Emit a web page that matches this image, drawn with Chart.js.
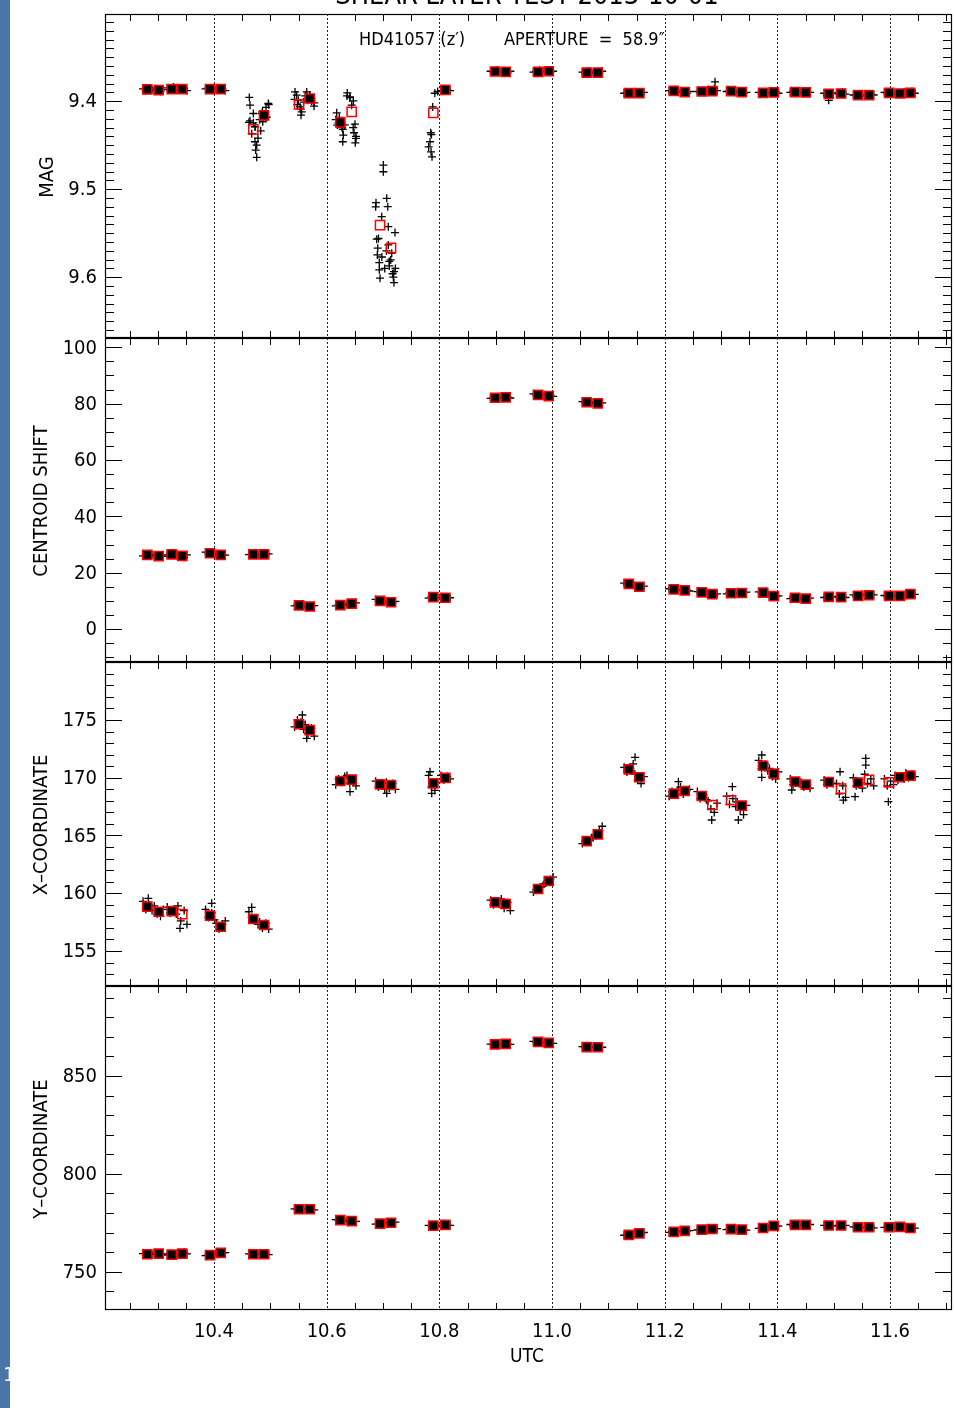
<!DOCTYPE html>
<html><head><meta charset="utf-8">
<script src="https://cdn.jsdelivr.net/npm/chart.js@4/dist/chart.umd.min.js"></script>
<style>
html,body{margin:0;padding:0;background:#fff;}
#wrap{position:relative;width:955px;height:1408px;overflow:hidden;background:#fff;}
canvas{position:absolute;left:0;top:0;}
#bar{position:absolute;left:0;top:0;width:10px;height:1408px;background:#4a75a6;}
#pg{position:absolute;left:3px;top:1362px;font:20px "DejaVu Sans",sans-serif;color:#fff;}
</style></head><body>
<div id="wrap">
<canvas id="c0" width="955" height="1408"></canvas>
<canvas id="c1" width="955" height="1408"></canvas>
<canvas id="c2" width="955" height="1408"></canvas>
<canvas id="c3" width="955" height="1408"></canvas>
<div id="bar"></div><div id="pg">1</div>
</div>
<script>
// ---- binned means (red squares) ----
const binTimes = [10.2816,10.3018,10.3249,10.3437,10.3929,10.4119,10.4698,10.4888,10.5509,10.5699,10.6242,10.6444,10.6947,10.7142,10.7893,10.8106,10.8988,10.9178,10.9752,10.9942,11.0616,11.0812,11.1362,11.1550,11.2161,11.2356,11.2658,11.2846,11.3178,11.3368,11.3746,11.3936,11.4314,11.4504,11.4912,11.5131,11.5433,11.5627,11.5983,11.6173,11.6361];
const magBins = [9.3867,9.3875,9.3864,9.3864,9.3864,9.3864,9.4320,9.4162,9.4037,9.3970,9.4242,9.4121,9.5409,9.5667,9.4133,9.3872,9.3663,9.3668,9.3668,9.3660,9.3675,9.3675,9.3909,9.3909,9.3883,9.3898,9.3890,9.3887,9.3887,9.3898,9.3906,9.3901,9.3898,9.3901,9.3917,9.3913,9.3932,9.3932,9.3906,9.3913,9.3906];
const shiftBins = [26.3,25.9,26.5,26.0,26.9,26.3,26.5,26.5,8.4,8.0,8.5,9.0,10.0,9.5,11.3,11.1,82.1,82.2,83.1,82.7,80.5,80.1,16.0,15.0,14.1,13.7,13.0,12.4,12.7,12.8,12.9,11.7,11.1,10.8,11.4,11.3,11.8,12.0,11.8,11.8,12.4];
const xBins = [158.84,158.40,158.46,158.20,158.06,157.10,157.77,157.25,174.63,174.13,169.72,169.83,169.43,169.37,169.52,169.98,159.21,159.07,160.37,161.06,164.52,165.10,170.73,170.04,168.62,168.85,168.42,167.64,168.05,167.58,171.04,170.35,169.66,169.40,169.63,169.05,169.57,169.81,169.60,170.04,170.18];
const yBins = [758.9,759.2,758.7,759.2,758.4,759.6,758.9,758.9,781.9,781.9,776.3,775.8,774.5,775.0,773.5,773.9,866.2,866.4,867.4,866.9,864.8,864.7,768.8,769.6,770.3,770.8,771.5,771.8,771.7,771.5,772.3,773.4,773.9,773.9,773.6,773.6,772.7,772.7,772.7,772.9,772.3];

// ---- individual exposures (black crosses) ----
const expTimes = [10.274,10.279,10.285,10.290,10.294,10.299,10.305,10.310,10.317,10.322,10.328,10.333,10.336,10.341,10.347,10.352,
10.385,10.390,10.396,10.401,10.404,10.409,10.415,10.420,10.462,10.467,10.473,10.478,10.481,10.486,10.492,10.497,
10.543,10.548,10.554,10.559,10.562,10.567,10.573,10.578,10.616,10.621,10.627,10.632,10.636,10.641,10.647,10.652,
10.687,10.692,10.698,10.703,10.706,10.711,10.717,10.722,10.781,10.786,10.792,10.797,10.803,10.808,10.814,10.819,
10.891,10.896,10.902,10.907,10.910,10.915,10.921,10.926,10.967,10.972,10.978,10.983,10.986,10.991,10.997,11.002,
11.054,11.059,11.065,11.070,11.073,11.078,11.084,11.089,11.128,11.133,11.139,11.144,11.147,11.152,11.158,11.163,
11.208,11.213,11.219,11.224,11.228,11.233,11.239,11.244,11.258,11.263,11.269,11.274,11.277,11.282,11.288,11.293,
11.310,11.315,11.321,11.326,11.329,11.334,11.340,11.345,11.367,11.372,11.378,11.383,11.386,11.391,11.397,11.402,
11.423,11.428,11.434,11.439,11.442,11.447,11.453,11.458,11.483,11.488,11.494,11.499,11.505,11.510,11.516,11.521,
11.535,11.540,11.546,11.551,11.555,11.560,11.566,11.571,11.590,11.595,11.601,11.606,11.609,11.614,11.620,11.625,
11.628,11.633,11.639,11.644];
const magExp = [9.386,9.388,9.385,9.387,9.388,9.386,9.389,9.387,9.385,9.387,9.384,9.386,9.387,9.385,9.386,9.388,
9.386,9.385,9.388,9.386,9.387,9.385,9.386,9.388,9.424,9.437,9.429,9.442,9.421,9.412,9.418,9.404,
9.398,9.404,9.409,9.401,9.394,9.399,9.397,9.402,9.421,9.425,9.430,9.427,9.394,9.396,9.430,9.440,
9.520,9.556,9.577,9.590,9.570,9.582,9.596,9.590,9.452,9.438,9.391,9.389,9.388,9.386,9.387,9.388,
9.366,9.367,9.365,9.367,9.367,9.366,9.368,9.366,9.367,9.366,9.365,9.367,9.366,9.365,9.367,9.366,
9.367,9.368,9.366,9.368,9.368,9.367,9.368,9.366,9.391,9.390,9.392,9.391,9.390,9.392,9.391,9.390,
9.388,9.389,9.387,9.389,9.390,9.389,9.391,9.389,9.389,9.390,9.388,9.389,9.387,9.389,9.386,9.388,
9.389,9.388,9.389,9.390,9.390,9.389,9.391,9.390,9.390,9.392,9.391,9.390,9.391,9.390,9.389,9.391,
9.390,9.389,9.391,9.390,9.390,9.391,9.389,9.390,9.391,9.393,9.392,9.391,9.391,9.392,9.390,9.392,
9.393,9.394,9.392,9.394,9.394,9.393,9.392,9.393,9.390,9.391,9.390,9.392,9.391,9.392,9.391,9.390,
9.391,9.390,9.389,9.391];
const shiftExp = [26.0,26.6,26.2,26.4,26.1,25.7,26.0,25.8,26.3,26.8,26.4,26.6,26.2,25.8,25.5,26.3,
27.3,26.8,26.7,27.0,26.5,26.1,26.4,26.2,26.4,26.7,26.5,26.3,26.6,26.4,26.5,26.7,
8.2,8.7,8.5,8.1,8.4,7.8,8.1,8.3,8.2,8.6,8.7,8.4,8.8,9.2,9.1,9.3,
10.5,9.8,10.2,9.9,9.6,9.3,9.5,9.8,11.0,11.5,11.4,11.2,11.3,11.0,11.2,11.1,
81.9,82.3,82.0,82.2,82.4,82.1,82.3,82.0,83.5,83.0,82.9,83.2,82.8,82.5,82.9,82.6,
80.7,80.4,80.6,80.3,80.2,79.9,80.1,80.3,16.3,15.9,15.7,15.6,15.4,14.8,14.6,15.2,
14.3,14.0,14.2,13.9,13.8,13.6,13.9,13.5,13.3,12.8,13.1,12.7,12.6,12.2,12.0,12.5,
12.5,12.9,12.6,12.8,13.0,12.6,12.9,13.1,13.2,12.7,13.0,12.6,12.0,11.6,11.4,11.8,
10.8,11.3,11.0,11.2,10.9,10.6,10.7,11.0,11.2,11.5,11.3,11.6,11.4,11.1,11.6,11.2,
12.1,11.6,11.9,12.3,12.2,11.8,12.4,12.1,11.9,11.7,11.8,12.0,11.6,11.9,11.8,11.7,
12.2,12.6,12.5,12.3];
const xExp = [159.3,158.6,159.0,158.5,158.9,158.2,158.0,158.6,158.8,158.3,158.6,158.2,158.9,157.6,158.5,157.3,
158.6,157.9,158.3,157.7,157.4,156.9,157.3,157.6,158.4,157.9,157.6,157.3,157.5,157.0,157.4,156.9,
174.4,175.0,174.8,174.2,174.6,173.8,174.3,173.6,169.4,169.9,169.6,170.1,170.2,169.5,169.9,169.3,
169.7,169.2,169.5,169.0,169.6,169.1,169.5,169.0,170.2,169.2,168.9,169.6,170.2,169.8,170.1,169.9,
159.4,159.0,159.3,159.1,159.5,158.7,159.2,158.5,160.1,160.3,160.5,160.6,160.8,161.0,161.2,161.4,
164.3,164.5,164.6,164.8,164.8,165.0,165.4,165.8,170.9,170.5,170.8,171.2,170.3,169.8,169.5,170.1,
168.4,168.8,168.5,168.9,169.2,168.6,168.9,169.0,168.8,168.2,168.5,168.1,168.0,167.3,167.0,167.8,
168.4,167.7,168.2,167.5,167.9,167.2,166.8,167.6,171.5,170.8,171.2,170.6,170.8,170.1,169.9,170.5,
169.9,169.4,169.7,169.5,169.6,169.2,169.4,169.1,169.8,169.4,169.7,169.5,169.5,168.6,169.3,168.3,
170.0,169.3,169.6,169.1,170.3,169.5,169.9,169.3,169.9,169.3,169.7,169.4,170.2,169.8,170.1,169.9,
170.4,170.0,170.3,170.1];
const yExp = [759.2,758.6,759.0,758.8,759.5,759.0,759.3,759.1,758.5,758.9,758.6,758.8,759.0,759.5,759.9,759.1,
758.2,758.5,758.3,758.6,759.4,759.8,759.5,759.7,759.1,758.7,758.9,759.0,758.8,759.1,758.9,758.7,
782.1,781.8,782.0,781.7,781.8,782.1,781.9,781.6,776.6,776.2,776.4,776.1,775.9,775.6,775.8,775.7,
774.3,774.7,774.5,774.6,775.2,774.9,775.1,775.3,773.7,773.4,773.6,773.3,773.8,774.1,773.9,773.7,
866.3,866.1,866.2,866.0,866.5,866.3,866.4,866.2,867.7,867.3,867.5,867.2,867.0,866.8,866.9,866.7,
865.0,864.7,864.9,864.6,864.6,864.8,864.5,864.7,768.6,768.9,769.0,768.7,769.4,769.8,769.7,770.0,
770.1,770.4,770.2,770.5,770.9,770.6,770.8,771.0,771.3,771.6,771.7,771.4,771.9,771.6,771.8,772.0,
771.5,771.9,771.6,771.8,771.7,771.4,771.6,771.2,772.1,772.4,772.2,772.5,773.2,773.6,773.5,773.3,
774.1,773.8,774.0,773.7,773.8,774.0,773.9,774.1,773.7,773.5,773.6,773.4,773.5,773.8,773.6,773.7,
772.9,772.6,772.8,772.5,772.8,772.5,772.7,772.4,772.6,772.8,772.7,772.9,773.0,772.8,772.9,773.1,
772.4,772.1,772.3,772.2];
// scattered exposures
const magExtraTimes = [10.4627,10.4639,10.4698,10.4639,10.4698,10.4728,10.4829,10.4728,10.4758,10.4740,10.4758,
10.4964,10.4923,10.4847,10.4888,10.4936,10.4865,
10.5438,10.5468,10.5497,10.5527,10.5557,10.5544,
10.5646,10.5704,10.5734,10.5775,
10.6178,10.6224,10.6189,10.6285,10.6295,10.6285,
10.6366,10.6414,10.6473,10.6444,10.6503,10.6485,10.6521,10.6508,
10.7006,10.7006,10.6876,10.7066,10.7084,10.6977,10.7094,10.7213,10.6888,10.6906,10.6899,10.6934,10.6934,10.6947,
10.7094,10.7155,10.7137,10.7112,10.7195,10.7183,10.7195,
10.7882,10.7847,10.7835,10.7852,10.7870,
11.2894,11.4912];
const magExtraValues = [9.3958,9.4045,9.4140,9.4223,9.4246,9.4291,9.4337,9.4461,9.4499,9.4556,9.4638,
9.4026,9.4071,9.4140,9.4159,9.4185,9.4234,
9.3895,9.3932,9.3989,9.4065,9.4121,9.4159,
9.3895,9.3932,9.3997,9.4057,
9.4133,9.4185,9.4272,9.4321,9.4385,9.4461,
9.3906,9.3951,9.3997,9.4045,9.4261,9.4359,9.4423,9.4473,
9.4726,9.4802,9.5153,9.5103,9.5198,9.5312,9.5425,9.5493,9.5568,9.5670,9.5746,9.5833,9.5916,9.6010,
9.5633,9.5727,9.5803,9.5871,9.5935,9.5999,9.6060,
9.4065,9.4359,9.4461,9.4575,9.4632,
9.3780,9.3990];
const xExtraTimes = [10.2834,10.3396,10.3959,10.4669,10.5568,10.5646,10.6414,10.7066,10.7834,10.7865,
11.1474,11.2243,11.2835,11.3201,11.3308,11.3723,11.3723,11.4256,11.5113,11.5171,11.5379,11.5569,11.5569,11.5970];
const xExtraValues = [159.56,156.96,159.13,158.78,175.43,173.41,168.79,168.65,170.52,168.65,
171.77,169.66,166.34,169.23,166.34,171.97,170.04,168.94,170.52,168.07,168.36,171.68,171.10,167.93];

// ---- axes ----
const xRange = [10.2065, 11.710];
const xMajorTicks = [10.4,10.6,10.8,11.0,11.2,11.4,11.6];
const xTickLabels = ['10.4','10.6','10.8','11.0','11.2','11.4','11.6'];
const xMinorTicks = [10.25,10.30,10.35,10.45,10.50,10.55,10.65,10.70,10.75,10.85,10.90,10.95,11.05,11.10,11.15,11.25,11.30,11.35,11.45,11.50,11.55,11.65,11.70];
const magTicks = [9.4,9.5,9.6], magTickLabels = ['9.4','9.5','9.6'];
const shiftTicks = [0,20,40,60,80,100], shiftTickLabels = ['0','20','40','60','80','100'];
const xcTicks = [155,160,165,170,175], xcTickLabels = ['155','160','165','170','175'];
const ycTicks = [750,800,850], ycTickLabels = ['750','800','850'];

const FONT = '"DejaVu Sans", sans-serif';
const panels = [
  {top:14, bottom:338, min:9.301, max:9.669, reverse:true, bins:magBins, exp:magExp, exT:magExtraTimes, exV:magExtraValues,
   majors:magTicks, labels:magTickLabels, minorStep:0.01, title:'MAG', titleX:53, hollow:[6,8,11,12,13,14]},
  {top:338, bottom:662, min:-11.7, max:103.3, reverse:false, bins:shiftBins, exp:shiftExp, exT:[], exV:[],
   majors:shiftTicks, labels:shiftTickLabels, minorStep:5, title:'CENTROID SHIFT', titleX:47, hollow:[]},
  {top:662, bottom:986, min:151.97, max:180.02, reverse:false, bins:xBins, exp:xExp, exT:xExtraTimes, exV:xExtraValues,
   majors:xcTicks, labels:xcTickLabels, minorStep:1, title:'X\u2013COORDINATE', titleX:47, hollow:[3,27,28,35,37,38]},
  {top:986, bottom:1310, min:730.4, max:896.0, reverse:false, bins:yBins, exp:yExp, exT:[], exV:[],
   majors:ycTicks, labels:ycTickLabels, minorStep:10, title:'Y\u2013COORDINATE', titleX:47, hollow:[]}
];

function txt(ctx, s, x, y, size, align, base, rot) {
  ctx.save();
  ctx.translate(x, y);
  if (rot) ctx.rotate(rot);
  ctx.scale(0.9, 1);
  ctx.font = size + 'px ' + FONT;
  ctx.fillStyle = '#000';
  ctx.textAlign = align; ctx.textBaseline = base;
  ctx.fillText(s, 0, 0);
  ctx.restore();
}

function makePlugin(p, idx) {
  return {
    id: 'idl' + idx,
    beforeDatasetsDraw(chart) {
      const ctx = chart.ctx, a = chart.chartArea, xs = chart.scales.x;
      ctx.save();
      ctx.strokeStyle = '#222'; ctx.lineWidth = 1; ctx.setLineDash([2, 2]);
      xMajorTicks.forEach(v => {
        const px = Math.round(xs.getPixelForValue(v)) + 0.5;
        ctx.beginPath(); ctx.moveTo(px, a.top); ctx.lineTo(px, a.bottom); ctx.stroke();
      });
      ctx.restore();
    },
    afterDatasetsDraw(chart) {
      const ctx = chart.ctx, a = chart.chartArea, xs = chart.scales.x, ys = chart.scales.y;
      ctx.save();
      ctx.strokeStyle = '#000'; ctx.lineWidth = 1.2;
      ctx.strokeRect(a.left + 0.5, a.top + 0.5, a.right - a.left - 1, a.bottom - a.top - 1);
      ctx.lineWidth = 1;
      ctx.beginPath();
      xMinorTicks.forEach(v => {
        const px = Math.round(xs.getPixelForValue(v)) + 0.5;
        ctx.moveTo(px, a.bottom); ctx.lineTo(px, a.bottom - 7);
        ctx.moveTo(px, a.top); ctx.lineTo(px, a.top + 7);
      });
      p.majors.forEach(v => {
        const py = Math.round(ys.getPixelForValue(v)) + 0.5;
        ctx.moveTo(a.left, py); ctx.lineTo(a.left + 17, py);
        ctx.moveTo(a.right, py); ctx.lineTo(a.right - 17, py);
      });
      const lo = Math.min(p.min, p.max), hi = Math.max(p.min, p.max);
      for (let k = Math.ceil(lo / p.minorStep - 1e-9); k * p.minorStep <= hi + 1e-9; k++) {
        const v = k * p.minorStep;
        if (p.majors.some(m => Math.abs(m - v) < p.minorStep / 10)) continue;
        const py = Math.round(ys.getPixelForValue(v)) + 0.5;
        if (py < a.top + 2 || py > a.bottom - 2) continue;
        ctx.moveTo(a.left, py); ctx.lineTo(a.left + 9, py);
        ctx.moveTo(a.right, py); ctx.lineTo(a.right - 9, py);
      }
      ctx.stroke();
      ctx.restore();
      p.majors.forEach((v, i) => {
        const py = ys.getPixelForValue(v);
        txt(ctx, p.labels[i], 97, py + 1, 20, 'right', 'middle');
      });
      txt(ctx, p.title, p.titleX, (a.top + a.bottom) / 2 + 1, 20, 'center', 'alphabetic', -Math.PI / 2);
      if (idx === 0) {
        txt(ctx, 'SHEAR LAYER TEST 2013-10-01', 527, 4, 27, 'center', 'alphabetic');
        txt(ctx, 'HD41057 (z\u2032)', 359, 45, 18, 'left', 'alphabetic');
        txt(ctx, 'APERTURE  =  58.9\u2033', 504, 45, 18, 'left', 'alphabetic');
      }
      if (idx === 3) {
        xMajorTicks.forEach((v, i) => {
          txt(ctx, xTickLabels[i], xs.getPixelForValue(v), 1332, 20, 'center', 'middle');
        });
        txt(ctx, 'UTC', 527, 1362, 19, 'center', 'alphabetic');
      }
    }
  };
}

panels.forEach((p, idx) => {
  const bins = binTimes.map((t, i) => ({x: t, y: p.bins[i]}));
  const exps = expTimes.map((t, i) => ({x: t, y: p.exp[i]}));
  const extras = p.exT.map((t, i) => ({x: t, y: p.exV[i]}));
  new Chart(document.getElementById('c' + idx), {
    type: 'scatter',
    data: {datasets: [
      {data: bins, pointStyle: 'rect', pointRadius: 6.5, borderColor: '#ff0000', borderWidth: 1.5,
       backgroundColor: c => p.hollow.includes(c.dataIndex) ? 'rgba(0,0,0,0)' : '#000', order: 0},
      {data: exps, pointStyle: 'cross', pointRadius: 4, borderColor: '#000', borderWidth: 1.3, order: 1},
      {data: extras, pointStyle: 'cross', pointRadius: 4, borderColor: '#000', borderWidth: 1.3, order: 2}
    ]},
    options: {
      responsive: false, animation: false, devicePixelRatio: 1, events: [],
      layout: {autoPadding: false, padding: {left: 105, right: 3, top: p.top, bottom: 1408 - p.bottom}},
      plugins: {legend: {display: false}, tooltip: {enabled: false}},
      scales: {
        x: {type: 'linear', min: xRange[0], max: xRange[1], display: false},
        y: {type: 'linear', min: p.min, max: p.max, reverse: p.reverse, display: false}
      }
    },
    plugins: [makePlugin(p, idx)]
  });
});
</script>
</body></html>
